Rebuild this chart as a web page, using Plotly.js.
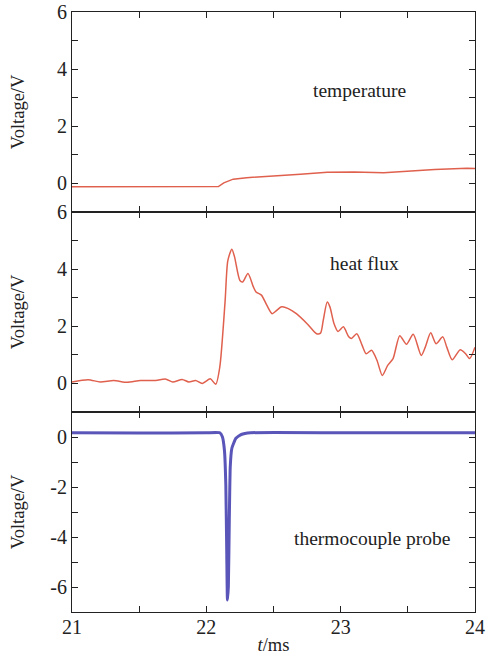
<!DOCTYPE html>
<html><head><meta charset="utf-8">
<script src="https://cdn.plot.ly/plotly-3.0.1.min.js"></script>
<style>html,body{margin:0;padding:0;background:#fff}#plot{width:486px;height:656px}</style>
</head><body><div id="plot"></div>
<script>
// temperature channel
const tempT = [21.0, 21.5, 22.0, 22.09, 22.13, 22.2, 22.3, 22.5, 22.7, 22.9, 23.1, 23.32, 23.5, 23.7, 23.94, 24.0];
const tempV = [-0.12, -0.12, -0.12, -0.11, 0.02, 0.15, 0.2, 0.25, 0.32, 0.39, 0.4, 0.37, 0.43, 0.49, 0.53, 0.52];
// heat flux channel
const fluxT = [21.0, 21.12, 21.21, 21.31, 21.41, 21.51, 21.61, 21.70, 21.75, 21.82, 21.87, 21.92, 21.97, 22.03, 22.07, 22.10, 22.14, 22.16, 22.19, 22.21, 22.25, 22.27, 22.31, 22.35, 22.37, 22.41, 22.45, 22.49, 22.52, 22.56, 22.61, 22.67, 22.75, 22.82, 22.85, 22.87, 22.90, 22.92, 22.95, 22.98, 23.02, 23.06, 23.08, 23.12, 23.16, 23.19, 23.23, 23.27, 23.31, 23.35, 23.39, 23.44, 23.49, 23.54, 23.60, 23.63, 23.67, 23.71, 23.76, 23.79, 23.83, 23.89, 23.93, 23.96, 24.0];
const fluxV = [0.05, 0.13, 0.05, 0.1, 0.04, 0.1, 0.1, 0.15, 0.05, 0.14, 0.05, 0.1, 0.0, 0.16, -0.03, 0.57, 2.9, 4.3, 4.7, 4.43, 3.6, 3.55, 3.85, 3.38, 3.2, 3.09, 2.74, 2.44, 2.54, 2.68, 2.62, 2.44, 2.09, 1.74, 1.76, 2.2, 2.85, 2.68, 2.1, 1.82, 1.98, 1.63, 1.57, 1.74, 1.33, 1.04, 1.16, 0.81, 0.28, 0.63, 0.87, 1.67, 1.37, 1.72, 0.98, 1.27, 1.77, 1.39, 1.63, 1.27, 0.83, 1.18, 1.04, 0.87, 1.27];
// thermocouple probe channel
const probeT = [21.0, 21.5, 22.0, 22.10, 22.12, 22.135, 22.145, 22.152, 22.157, 22.164, 22.171, 22.178, 22.19, 22.22, 22.26, 22.33, 23.0, 24.0];
const probeV = [0.17, 0.16, 0.17, 0.17, 0.0, -0.55, -1.9, -4.65, -6.52, -5.99, -3.32, -1.2, -0.45, -0.05, 0.1, 0.17, 0.17, 0.17];
// tick labels
const xTicks = [21, 22, 23, 24];
const xTickText = ['21', '22', '23', '24'];
const yTopTicks = [0, 2, 4, 6];
const yTopText = ['0', '2', '4', '6'];
const yProbeTicks = [0, -2, -4, -6];
const yProbeText = ['0', '-2', '-4', '-6'];

const red = '#e0604e';
const blue = '#5a55b8';
const fam = 'Liberation Serif, Times New Roman, serif';
const tickFont = {family: fam, size: 20, color: '#222'};
const titleFont = {family: fam, size: 18.5, color: '#222'};
const annFont = {family: fam, size: 19.5, color: '#222'};

const traces = [
  {x: tempT, y: tempV, xaxis: 'x3', yaxis: 'y3', mode: 'lines', line: {color: red, width: 1.5}},
  {x: fluxT, y: fluxV, xaxis: 'x2', yaxis: 'y2', mode: 'lines', line: {color: red, width: 1.5, shape: 'spline', smoothing: 0.7}},
  {x: probeT, y: probeV, xaxis: 'x', yaxis: 'y', mode: 'lines', line: {color: blue, width: 3, shape: 'spline', smoothing: 0.4}}
];

function xax(anchor, labels) {
  return {
    anchor: anchor, domain: [0, 1], range: [21, 24],
    tickvals: xTicks, ticktext: xTickText, showticklabels: labels,
    ticks: 'inside', ticklen: 6, tickcolor: '#222', tickwidth: 1,
    minor: {dtick: 0.5, tick0: 21, ticks: 'inside', ticklen: 6, tickcolor: '#222'},
    showline: true, linecolor: '#222', linewidth: 1, mirror: 'ticks',
    showgrid: false, zeroline: false, tickfont: tickFont, fixedrange: true
  };
}
function yax(anchor, dom, range, vals, text, standoff) {
  return {
    anchor: anchor, domain: dom, range: range,
    tickvals: vals, ticktext: text,
    ticks: 'inside', ticklen: 6, tickcolor: '#222', tickwidth: 1,
    minor: {dtick: 1, tick0: 0, ticks: 'inside', ticklen: 6, tickcolor: '#222'},
    showline: true, linecolor: '#222', linewidth: 1, mirror: 'ticks',
    showgrid: false, zeroline: false, tickfont: tickFont,
    title: {text: 'Voltage/V', font: titleFont, standoff: standoff}, fixedrange: true
  };
}

const xa1 = xax('y', true);
xa1.title = {text: '<i>t</i>/ms', font: titleFont, standoff: 1};
xa1.ticklabelstandoff = -3;

const layout = {
  width: 486, height: 656,
  margin: {l: 72, r: 11, t: 12, b: 44},
  paper_bgcolor: '#fff', plot_bgcolor: '#fff',
  showlegend: false, font: tickFont,
  xaxis: xa1,
  xaxis2: xax('y2', false),
  xaxis3: xax('y3', false),
  yaxis: yax('x', [0, 1/3], [-7, 1], yProbeTicks, yProbeText, 20),
  yaxis2: yax('x2', [1/3, 2/3], [-1, 6], yTopTicks, yTopText, 27),
  yaxis3: yax('x3', [2/3, 1], [-1, 6], yTopTicks, yTopText, 27),
  annotations: [
    {xref: 'x3', yref: 'y3', x: 23.14, y: 3.26, text: 'temperature', showarrow: false, font: annFont},
    {xref: 'x2', yref: 'y2', x: 23.18, y: 4.2, text: 'heat flux', showarrow: false, font: annFont},
    {xref: 'x', yref: 'y', x: 23.24, y: -4.05, text: 'thermocouple probe', showarrow: false, font: annFont}
  ]
};

Plotly.newPlot('plot', traces, layout, {displayModeBar: false, staticPlot: true});
</script></body></html>
